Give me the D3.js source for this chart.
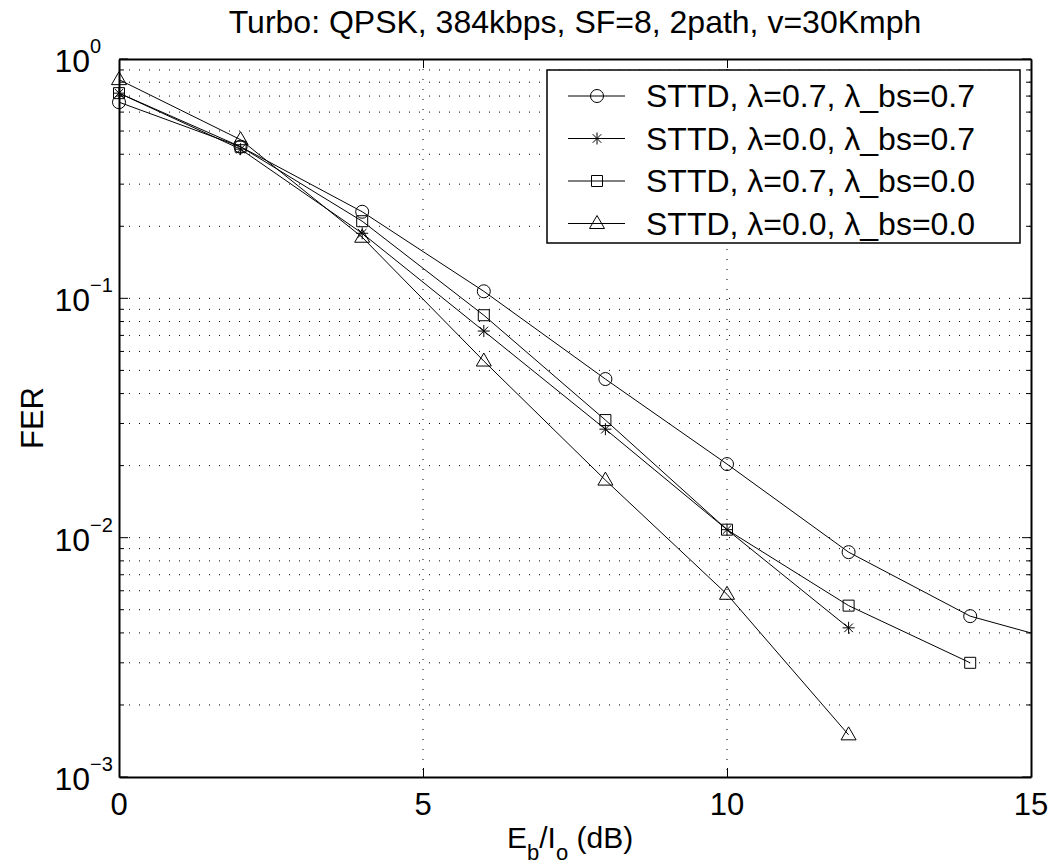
<!DOCTYPE html>
<html>
<head>
<meta charset="utf-8">
<script src="https://cdn.jsdelivr.net/npm/d3@7"></script>
<style>
  body { margin: 0; background: #fff; }
  text { font-family: "Liberation Sans", Arial, sans-serif; fill: #000; }
</style>
</head>
<body>
<svg width="1050" height="865"></svg>
<script>
var ebio = [0, 2, 4, 6, 8, 10, 12, 14, 16];

var ferA = [0.66, 0.43, 0.23, 0.107, 0.046, 0.0203, 0.0087, 0.0047, 0.0034];
var ferB = [0.72, 0.42, 0.187, 0.073, 0.0284, 0.0108, 0.0042];
var ferC = [0.72, 0.43, 0.21, 0.085, 0.031, 0.0108, 0.0052, 0.003];
var ferD = [0.82, 0.46, 0.18, 0.0547, 0.0174, 0.0058, 0.0015];

var seriesNames = [
    'STTD, \u03bb=0.7, \u03bb_bs=0.7',
    'STTD, \u03bb=0.0, \u03bb_bs=0.7',
    'STTD, \u03bb=0.7, \u03bb_bs=0.0',
    'STTD, \u03bb=0.0, \u03bb_bs=0.0'
];
var markers = ['circle', 'star', 'square', 'triangle'];
var xTicks = [0, 5, 10, 15];
var yTicks = [1, 0.1, 0.01, 0.001];
var yExp = ['0', '\u22121', '\u22122', '\u22123'];

var series = [ferA, ferB, ferC, ferD].map(function(vals, i){
    return {
        name: seriesNames[i],
        marker: markers[i],
        points: vals.map(function(v, j){ return { x: ebio[j], y: v }; })
    };
});

var mL = 119, mR = 1031, mT = 59, mB = 777;

var xScale = d3.scaleLinear().domain([0, 15]).range([mL, mR]);
var yScale = d3.scaleLog().domain([0.001, 1]).range([mB, mT]);

var svg = d3.select('svg');

svg.append('defs').append('clipPath')
    .attr('id', 'plotclip')
    .append('rect')
    .attr('x', mL).attr('y', mT)
    .attr('width', mR - mL).attr('height', mB - mT);

// minor + major y values
var yGrid = [];
[0.001, 0.01, 0.1].forEach(function(d){
    for (var k = 1; k <= 9; k++) yGrid.push(d * k);
});
yGrid.push(1);
function isMajor(v){
    return yTicks.some(function(t){ return Math.abs(t - v) / t < 1e-6; });
}

var grid = svg.append('g').attr('class', 'grid');
grid.selectAll('line.gy')
    .data(yGrid.filter(function(v){ return v > 0.0011 && v < 0.99; }))
    .enter().append('line')
    .attr('class', 'gy')
    .attr('x1', mL).attr('x2', mR)
    .attr('y1', function(d){ return yScale(d); })
    .attr('y2', function(d){ return yScale(d); })
    .attr('stroke', '#000')
    .attr('stroke-width', 1)
    .attr('stroke-dasharray', '1,9');

grid.selectAll('line.gx')
    .data(xTicks.slice(1, -1))
    .enter().append('line')
    .attr('class', 'gx')
    .attr('y1', mT).attr('y2', mB)
    .attr('x1', function(d){ return xScale(d); })
    .attr('x2', function(d){ return xScale(d); })
    .attr('stroke', '#000')
    .attr('stroke-width', 1)
    .attr('stroke-dasharray', '1,9');

// axes with inward ticks
var xAxisB = d3.axisBottom(xScale).tickValues(xTicks).tickSize(-9).tickSizeOuter(0).tickFormat('');
var xAxisT = d3.axisTop(xScale).tickValues(xTicks).tickSize(-9).tickSizeOuter(0).tickFormat('');
var yAxisL = d3.axisLeft(yScale).tickValues(yGrid).tickSize(0).tickFormat('');
var yAxisR = d3.axisRight(yScale).tickValues(yGrid).tickSize(0).tickFormat('');

function styleAxis(g){
    g.select('.domain').attr('stroke', '#000').attr('stroke-width', 2);
    g.selectAll('.tick line').attr('stroke', '#000').attr('stroke-width', 1);
}

svg.append('g').attr('transform', 'translate(0,' + mB + ')').call(xAxisB).call(styleAxis);
svg.append('g').attr('transform', 'translate(0,' + mT + ')').call(xAxisT).call(styleAxis);
svg.append('g').attr('transform', 'translate(' + mL + ',0)').call(yAxisL).call(styleAxis);
svg.append('g').attr('transform', 'translate(' + mR + ',0)').call(yAxisR).call(styleAxis);

// y ticks: major longer, minor shorter
svg.append('g').selectAll('line')
    .data(yGrid)
    .enter().append('line')
    .attr('x1', mL)
    .attr('x2', function(d){ return mL + (isMajor(d) ? 9 : 5); })
    .attr('y1', function(d){ return yScale(d); })
    .attr('y2', function(d){ return yScale(d); })
    .attr('stroke', '#000');
svg.append('g').selectAll('line')
    .data(yGrid)
    .enter().append('line')
    .attr('x1', mR)
    .attr('x2', function(d){ return mR - (isMajor(d) ? 9 : 5); })
    .attr('y1', function(d){ return yScale(d); })
    .attr('y2', function(d){ return yScale(d); })
    .attr('stroke', '#000');

// tick labels
svg.append('g').selectAll('text')
    .data(xTicks)
    .enter().append('text')
    .attr('x', function(d){ return xScale(d); })
    .attr('y', mB + 38)
    .attr('text-anchor', 'middle')
    .style('font-size', '31px')
    .text(function(d){ return d; });

var yl = svg.append('g').selectAll('g')
    .data(yTicks)
    .enter().append('g')
    .attr('transform', function(d){ return 'translate(' + (mL - 29) + ',' + (yScale(d) + 13) + ')'; });
yl.append('text')
    .attr('text-anchor', 'end')
    .style('font-size', '32px')
    .text('10');
yl.append('text')
    .attr('x', 0).attr('y', -19)
    .style('font-size', '20px')
    .text(function(d, i){ return yExp[i]; });

// lines and markers
var line = d3.line()
    .x(function(d){ return xScale(d.x); })
    .y(function(d){ return yScale(d.y); });

var plot = svg.append('g').attr('clip-path', 'url(#plotclip)');

plot.selectAll('path.series')
    .data(series)
    .enter().append('path')
    .attr('class', 'series')
    .attr('d', function(d){ return line(d.points); })
    .attr('fill', 'none')
    .attr('stroke', '#000')
    .attr('stroke-width', 1);

function markerPath(type){
    if (type === 'circle') return 'M-6.5,0A6.5,6.5 0 1,0 6.5,0A6.5,6.5 0 1,0 -6.5,0Z';
    if (type === 'square') return 'M-5.5,-5.5H5.5V5.5H-5.5Z';
    if (type === 'triangle') return 'M0,-8L7.5,5H-7.5Z';
    return 'M-6,0H6M0,-6V6M-4.3,-4.3L4.3,4.3M-4.3,4.3L4.3,-4.3';
}

series.forEach(function(s){
    svg.append('g').selectAll('path')
        .data(s.points.filter(function(p){ return p.x <= 15; }))
        .enter().append('path')
        .attr('transform', function(d){ return 'translate(' + xScale(d.x) + ',' + yScale(d.y) + ')'; })
        .attr('d', markerPath(s.marker))
        .attr('fill', 'none')
        .attr('stroke', '#000')
        .attr('stroke-width', 1);
});

// legend
var lg = svg.append('g').attr('transform', 'translate(547,70)');
lg.append('rect')
    .attr('width', 473).attr('height', 173)
    .attr('fill', '#fff')
    .attr('stroke', '#000')
    .attr('stroke-width', 1.5);

var rows = lg.selectAll('g.row')
    .data(series)
    .enter().append('g')
    .attr('class', 'row')
    .attr('transform', function(d, i){ return 'translate(0,' + (26 + i * 42.5) + ')'; });
rows.append('line')
    .attr('x1', 21).attr('x2', 78)
    .attr('stroke', '#000');
rows.append('path')
    .attr('transform', 'translate(50,0)')
    .attr('d', function(d){ return markerPath(d.marker); })
    .attr('fill', 'none')
    .attr('stroke', '#000');
rows.append('text')
    .attr('x', 99).attr('y', 11)
    .style('font-size', '32px')
    .text(function(d){ return d.name; });

// titles
svg.append('text')
    .attr('x', (mL + mR) / 2)
    .attr('y', 33)
    .attr('text-anchor', 'middle')
    .style('font-size', '32px')
    .text('Turbo: QPSK, 384kbps, SF=8, 2path, v=30Kmph');

svg.append('text')
    .attr('transform', 'translate(43,' + ((mT + mB) / 2) + ') rotate(-90)')
    .attr('text-anchor', 'middle')
    .style('font-size', '31px')
    .text('FER');

var xl = svg.append('text')
    .attr('x', 507)
    .attr('y', 848)
    .style('font-size', '30px');
xl.append('tspan').text('E');
xl.append('tspan').attr('dy', 12).style('font-size', '22px').text('b');
xl.append('tspan').attr('dy', -12).text('/I');
xl.append('tspan').attr('dy', 12).style('font-size', '22px').text('o');
xl.append('tspan').attr('dy', -12).text(' (dB)');
</script>
</body>
</html>
